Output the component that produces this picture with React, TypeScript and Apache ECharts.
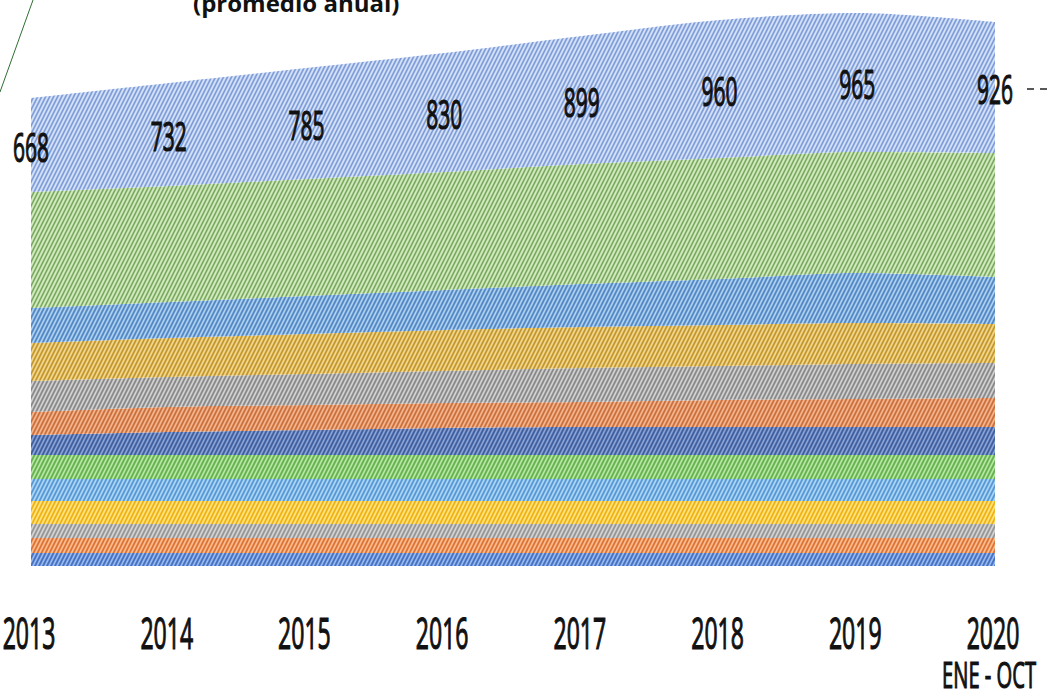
import React, { useEffect, useRef } from "react";
import * as echarts from "echarts";

// Categories (x axis) and the note under the last one
const years = ["2013", "2014", "2015", "2016", "2017", "2018", "2019", "2020"];
const periodNote = ["", "", "", "", "", "", "", "ENE - OCT"];

// Totals shown as labels (promedio anual)
const totals = [668, 732, 785, 830, 899, 960, 965, 926];

// Stacked bands, bottom to top (relative heights)
const band01 = [13, 13, 13, 13, 13, 13, 13, 13];
const band02 = [15, 15, 15, 15, 15, 15, 15, 15];
const band03 = [14, 14, 14, 14, 14, 14, 14, 14];
const band04 = [23, 23, 23, 23, 23, 23, 23, 23];
const band05 = [22, 22, 22, 22, 22, 22, 22, 22];
const band06 = [24, 24, 24, 24, 24, 24, 24, 24];
const band07 = [20, 23, 25, 27, 28, 28, 28, 28];
const band08 = [23, 25, 25, 25, 25, 27, 28, 29];
const band09 = [31, 30, 31, 32, 34, 34, 35, 35];
const band10 = [38, 39, 40, 41, 41, 41, 41, 39];
const band11 = [35, 36, 38, 40, 43, 46, 50, 47];
const band12 = [116, 116, 117, 118, 120, 121, 121, 124];
const band13 = [94, 103, 111, 119, 128, 138, 139, 131];

const bands = [
  band01, band02, band03, band04, band05, band06, band07,
  band08, band09, band10, band11, band12, band13,
];

const bandColors: [string, string, string][] = [
  ["#5a86d4", "#a0bef0", "#4068b0"],
  ["#f08a4c", "#fbc19a", "#cc6a32"],
  ["#ababab", "#d8d8d8", "#8a8a8a"],
  ["#ffc630", "#ffe58a", "#dca610"],
  ["#6eaee4", "#b4d8f6", "#4e8cc6"],
  ["#7cc466", "#bce8ac", "#5ca646"],
  ["#5474b2", "#8fa6d8", "#36548f"],
  ["#e08652", "#f4ba98", "#bc6634"],
  ["#a4a4a4", "#d4d4d4", "#7a7a7a"],
  ["#ddb24a", "#f2d996", "#b08826"],
  ["#6ba0d8", "#b6d4f2", "#487cb6"],
  ["#a6cd8c", "#d6edc7", "#66954e"],
  ["#a4bdec", "#dae5f8", "#6e8cc8"],
];

function makePattern(base: string, light: string, dark: string) {
  const w = 4;
  const h = 8;
  const c = document.createElement("canvas");
  c.width = w;
  c.height = h;
  const ctx = c.getContext("2d")!;
  ctx.fillStyle = base;
  ctx.fillRect(0, 0, w, h);
  for (let k = -8; k <= 16; k += 2) {
    const isLight = k % 4 === 0;
    ctx.strokeStyle = isLight ? light : dark;
    ctx.lineWidth = isLight ? 1.3 : 0.9;
    ctx.beginPath();
    ctx.moveTo(k + 0.5, -1);
    ctx.lineTo(k - (h + 1) / 2, h + 1);
    ctx.stroke();
  }
  return { image: c, repeat: "repeat", imageWidth: w, imageHeight: h } as any;
}

const TEXT_FONT = "'Open Sans', 'Noto Sans', sans-serif";

function labelText(text: string, x: number, y: number, size: number, sx: number, sy = 1.36) {
  return {
    type: "text",
    x,
    y,
    scaleX: sx,
    scaleY: sy,
    style: {
      text,
      font: `${size}px ${TEXT_FONT}`,
      fill: "#111111",
      stroke: "#111111",
      lineWidth: 0.9,
      align: "center",
      verticalAlign: "middle",
    },
  };
}

export default function App() {
  const ref = useRef<HTMLDivElement>(null);

  useEffect(() => {
    if (!ref.current) return;
    const chart = echarts.init(ref.current, undefined, { renderer: "svg" });

    // middle of top band, where the total label sits
    const labelData = totals.map((t, i) => {
      let below = 0;
      for (let b = 0; b < bands.length - 1; b++) below += bands[b][i];
      return [i, below + bands[bands.length - 1][i] / 2, t];
    });
    const axisData = years.map((_, i) => [i, 0]);

    const areaSeries = bands.map((band, bi) => ({
      type: "line",
      name: "band" + (bi + 1),
      stack: "total",
      data: band,
      smooth: 0.3,
      symbol: "none",
      showSymbol: false,
      lineStyle: { width: 0, opacity: 0 },
      areaStyle: {
        color: makePattern(bandColors[bi][0], bandColors[bi][1], bandColors[bi][2]),
        opacity: 1,
      },
      emphasis: { disabled: true },
      silent: true,
      z: 2,
    }));

    const option: any = {
      animation: false,
      backgroundColor: "#ffffff",
      grid: { left: 31, right: 58, top: 0, bottom: 132, containLabel: false },
      xAxis: {
        type: "category",
        data: years,
        boundaryGap: false,
        axisLine: { show: false },
        axisTick: { show: false },
        axisLabel: { show: false },
        splitLine: { show: false },
      },
      yAxis: {
        type: "value",
        min: 0,
        max: 566,
        show: false,
        splitLine: { show: false },
      },
      series: [
        ...areaSeries,
        {
          type: "custom",
          name: "totales",
          coordinateSystem: "cartesian2d",
          data: labelData,
          encode: { x: 0, y: 1 },
          z: 10,
          silent: true,
          renderItem: (params: any, api: any) => {
            const pt = api.coord([api.value(0), api.value(1)]);
            return labelText(String(api.value(2)), pt[0], pt[1] + 1, 30, 0.7);
          },
        },
        {
          type: "custom",
          name: "ejes",
          coordinateSystem: "cartesian2d",
          data: axisData,
          encode: { x: 0, y: 1 },
          z: 10,
          silent: true,
          clip: false,
          renderItem: (params: any, api: any) => {
            const i = params.dataIndex;
            const pt = api.coord([api.value(0), 0]);
            const children: any[] = [labelText(years[i], pt[0] - 2, pt[1] + 66, 32, 0.72)];
            if (periodNote[i]) {
              children.push(labelText(periodNote[i], pt[0] - 6, pt[1] + 108, 28, 0.72, 1.3));
            }
            return { type: "group", children };
          },
        },
      ],
      graphic: [
        {
          type: "line",
          shape: { x1: 33, y1: 0, x2: 0, y2: 92 },
          style: { stroke: "#2f6e33", lineWidth: 1 },
          silent: true,
        },
        {
          type: "line",
          shape: { x1: 1027, y1: 89, x2: 1052, y2: 89 },
          style: { stroke: "#222222", lineWidth: 1.3, lineDash: [7, 6] },
          silent: true,
        },
        {
          type: "text",
          x: 193,
          y: 14,
          silent: true,
          style: {
            text: "(promedio anual)",
            font: `bold 24px ${TEXT_FONT}`,
            fill: "#111111",
            align: "left",
            verticalAlign: "bottom",
          },
        },
      ],
    };

    chart.setOption(option);
    return () => {
      chart.dispose();
    };
  }, []);

  return (
    <div
      ref={ref}
      style={{ position: "absolute", left: 0, top: 0, width: 1053, height: 698 }}
    />
  );
}
